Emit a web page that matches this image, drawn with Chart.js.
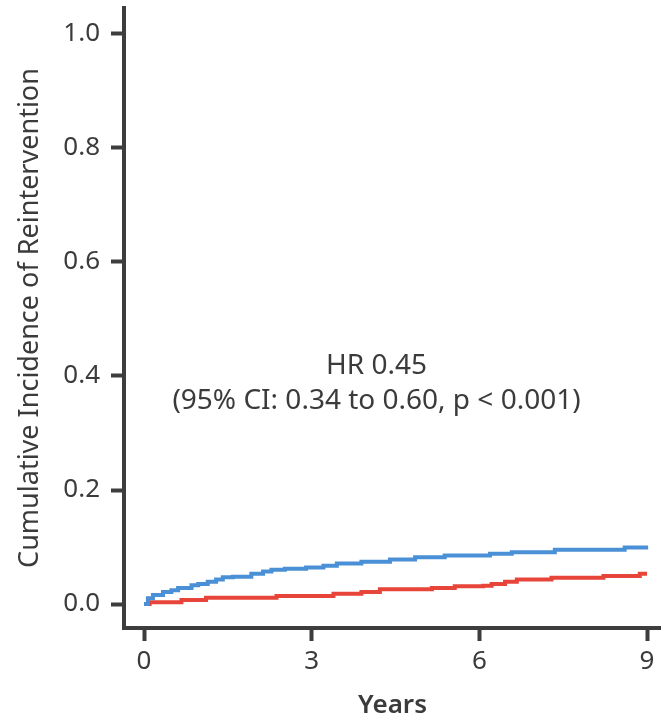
<!DOCTYPE html>
<html>
<head>
<meta charset="utf-8">
<script src="https://cdn.jsdelivr.net/npm/chart.js@4"></script>
<style>
  html, body { margin: 0; padding: 0; background: #fff; }
  #wrap { width: 661px; height: 721px; }
</style>
</head>
<body>
<div id="wrap"><canvas id="chart" width="661" height="721"></canvas></div>
<script>
// step points: year of the jump, cumulative incidence after the jump
var blueYears = [0, 0.07, 0.16, 0.34, 0.49, 0.61, 0.85, 0.97, 1.14, 1.29, 1.41, 1.59, 1.92, 2.13, 2.28, 2.52, 2.9, 3.21, 3.45, 3.89, 4.4, 4.85, 5.38, 6.19, 6.58, 7.35, 8.6, 9.02];
var blueValues = [0, 0.010, 0.016, 0.021, 0.024, 0.028, 0.033, 0.035, 0.039, 0.043, 0.047, 0.048, 0.053, 0.057, 0.060, 0.062, 0.064, 0.067, 0.071, 0.074, 0.078, 0.082, 0.085, 0.088, 0.091, 0.095, 0.099, 0.099];

var redYears = [0, 0.1, 0.67, 1.11, 2.37, 3.39, 3.89, 4.22, 5.15, 5.56, 6.07, 6.22, 6.46, 6.67, 7.29, 8.22, 8.87, 9.0];
var redValues = [0, 0.003, 0.007, 0.011, 0.014, 0.018, 0.021, 0.026, 0.028, 0.031, 0.032, 0.035, 0.039, 0.043, 0.046, 0.049, 0.053, 0.053];

var xTicks = [0, 3, 6, 9];
var yTicks = [0, 0.2, 0.4, 0.6, 0.8, 1.0];

var noteLines = ['HR 0.45', '(95% CI: 0.34 to 0.60, p < 0.001)'];
var noteX = 4.16;
var noteY = [0.418, 0.356];

function toPoints(xs, ys) {
  return xs.map(function (x, i) { return { x: x, y: ys[i] }; });
}

var axisColor = '#3d3d3d';
var textColor = '#3b3b3b';
var fontFamily = '"Noto Sans", "Open Sans", sans-serif';

var notePlugin = {
  id: 'note',
  afterDatasetsDraw: function (chart) {
    var ctx = chart.ctx;
    var xs = chart.scales.x, ys = chart.scales.y;
    ctx.save();
    ctx.fillStyle = textColor;
    ctx.font = '28px ' + fontFamily;
    ctx.textAlign = 'center';
    ctx.textBaseline = 'middle';
    noteLines.forEach(function (t, i) {
      ctx.fillText(t, xs.getPixelForValue(noteX), ys.getPixelForValue(noteY[i]));
    });
    ctx.restore();
  }
};

window.onload = function () {
  var config = {
    type: 'line',
    data: {
      datasets: [
        {
          label: 'blue',
          data: toPoints(blueYears, blueValues),
          borderColor: '#4a90d6',
          borderWidth: 4,
          stepped: true,
          pointRadius: 0,
          fill: false
        },
        {
          label: 'red',
          data: toPoints(redYears, redValues),
          borderColor: '#e8453a',
          borderWidth: 4,
          stepped: true,
          pointRadius: 0,
          fill: false
        }
      ]
    },
    options: {
      responsive: false,
      animation: false,
      layout: { padding: { top: 8, right: 0, left: 0, bottom: 0 } },
      plugins: { legend: { display: false }, tooltip: { enabled: false } },
      scales: {
        x: {
          type: 'linear',
          min: -0.358,
          max: 9.25,
          afterBuildTicks: function (s) { s.ticks = xTicks.map(function (v) { return { value: v }; }); },
          afterFit: function (s) { s.height = 93; s.paddingLeft = 0; s.paddingRight = 0; },
          border: { display: true, color: axisColor, width: 4 },
          grid: { drawOnChartArea: false, drawTicks: true, tickLength: 13, tickWidth: 4, tickColor: axisColor },
          ticks: { color: textColor, padding: 5, font: { family: fontFamily, size: 26 } },
          title: { display: true, text: 'Years', color: textColor, padding: { top: 0, bottom: 0 }, font: { family: fontFamily, size: 26, weight: '600' } }
        },
        y: {
          type: 'linear',
          min: -0.0421,
          max: 1.0456,
          afterBuildTicks: function (s) { s.ticks = yTicks.map(function (v) { return { value: v }; }); },
          afterFit: function (s) { s.width = 124; s.paddingTop = 0; s.paddingBottom = 0; },
          border: { display: true, color: axisColor, width: 4 },
          grid: { drawOnChartArea: false, drawTicks: true, tickLength: 13, tickWidth: 4, tickColor: axisColor },
          ticks: {
            color: textColor, padding: 11, font: { family: fontFamily, size: 26 },
            callback: function (v) { return v.toFixed(1); }
          },
          title: { display: true, text: 'Cumulative Incidence of Reintervention', color: textColor, padding: { top: 14, bottom: 0 }, font: { family: fontFamily, size: 27 } }
        }
      }
    },
    plugins: [notePlugin]
  };

  var ctx = document.getElementById('chart').getContext('2d');
  window.myLine = new Chart(ctx, config);
};
</script>
</body>
</html>
